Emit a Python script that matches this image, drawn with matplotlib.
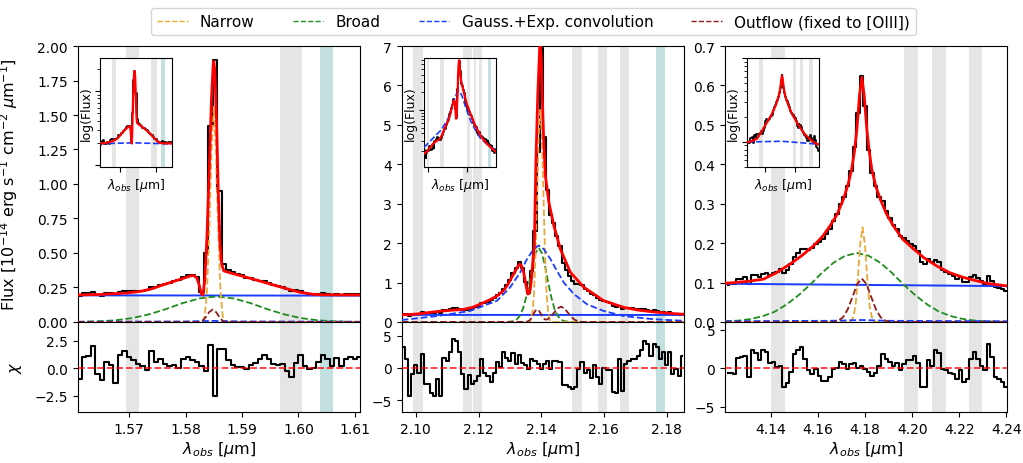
import matplotlib
matplotlib.use('Agg')
import matplotlib.pyplot as plt
from matplotlib.lines import Line2D

# ---------------------------------------------------------------------------
# Panel 1 : 1.56 - 1.61 um
# ---------------------------------------------------------------------------
wl_1 = [1.5612, 1.5620, 1.5628, 1.5636, 1.5644, 1.5652, 1.5660, 1.5668, 1.5676, 1.5684,
        1.5692, 1.5700, 1.5708, 1.5716, 1.5724, 1.5732, 1.5740, 1.5748, 1.5756, 1.5764,
        1.5772, 1.5780, 1.5788, 1.5796, 1.5804, 1.5812, 1.5820, 1.5828, 1.5836, 1.5844,
        1.5852, 1.5860, 1.5868, 1.5876, 1.5884, 1.5892, 1.5900, 1.5908, 1.5916, 1.5924,
        1.5932, 1.5940, 1.5948, 1.5956, 1.5964, 1.5972, 1.5980, 1.5988, 1.5996, 1.6004,
        1.6012, 1.6020, 1.6028, 1.6036, 1.6044, 1.6052, 1.6060, 1.6068, 1.6076, 1.6084,
        1.6092, 1.6100, 1.6108]
flux_1 = [0.186, 0.207, 0.209, 0.219, 0.195, 0.190, 0.208, 0.207, 0.192, 0.220,
          0.226, 0.223, 0.223, 0.224, 0.227, 0.230, 0.256, 0.256, 0.270, 0.276,
          0.285, 0.297, 0.304, 0.323, 0.337, 0.343, 0.324, 0.217, 0.500, 1.420,
          1.900, 0.950, 0.420, 0.375, 0.360, 0.348, 0.338, 0.322, 0.316, 0.307,
          0.300, 0.295, 0.282, 0.271, 0.262, 0.254, 0.237, 0.224, 0.229, 0.227,
          0.211, 0.203, 0.200, 0.204, 0.209, 0.204, 0.198, 0.205, 0.198, 0.204,
          0.206, 0.204, 0.206]
chi_1 = [-1.0, 1.0, 1.1, 2.0, -0.5, -1.1, 0.6, 0.3, -1.4, 1.2,
         1.6, 1.0, 0.7, 0.4, 0.2, -0.2, 1.6, 0.6, 0.8, 0.4,
         0.2, 0.3, 0.0, 0.8, 1.0, 0.7, 0.6, 0.2, -0.3, 2.1,
         -2.5, 1.7, 1.7, 0.7, 0.3, 0.1, 0.1, -0.1, 0.3, 0.5,
         0.8, 1.2, 0.8, 0.4, 0.3, 0.4, -0.3, -0.8, 0.5, 1.2,
         0.2, -0.1, 0.0, 0.6, 1.2, 0.8, 0.2, 0.9, 0.2, 0.8,
         1.0, 0.8, 1.0]
model_x_1 = [1.5609, 1.5650, 1.5696, 1.5720, 1.5740, 1.5755, 1.5780, 1.5800, 1.5810, 1.5815,
             1.5820, 1.5824, 1.5828, 1.5831, 1.5834, 1.5838, 1.5842, 1.5846, 1.5849, 1.5850,
             1.5852, 1.5855, 1.5858, 1.5861, 1.5864, 1.5868, 1.5880, 1.5908, 1.5935, 1.5961,
             1.5985, 1.6003, 1.6027, 1.6050, 1.6109]
model_y_1 = [0.196, 0.200, 0.210, 0.222, 0.240, 0.262, 0.295, 0.322, 0.335, 0.336,
             0.320, 0.270, 0.205, 0.196, 0.300, 0.620, 1.100, 1.620, 1.860, 1.890,
             1.820, 1.450, 0.950, 0.580, 0.420, 0.370, 0.355, 0.324, 0.293, 0.262,
             0.235, 0.215, 0.200, 0.197, 0.196]
narrow_x_1 = [1.5609, 1.5830, 1.5834, 1.5838, 1.5842, 1.5846, 1.5850, 1.5854, 1.5858, 1.5862,
              1.5866, 1.5870, 1.6109]
narrow_y_1 = [0.0, 0.0, 0.04, 0.22, 0.65, 1.23, 1.56, 1.23, 0.65, 0.22, 0.04, 0.0, 0.0]
broad_x_1 = [1.5609, 1.5615, 1.5645, 1.5675, 1.5705, 1.5735, 1.5765, 1.5795, 1.5825, 1.5855,
             1.5885, 1.5915, 1.5945, 1.5975, 1.6005, 1.6035, 1.6065, 1.6095, 1.6109]
broad_y_1 = [0.0, 0.001, 0.005, 0.012, 0.028, 0.055, 0.093, 0.137, 0.171, 0.185,
             0.171, 0.137, 0.093, 0.055, 0.028, 0.012, 0.005, 0.001, 0.0]
gexp_x_1 = [1.5609, 1.5800, 1.5850, 1.5900, 1.6109]
gexp_y_1 = [0.002, 0.004, 0.008, 0.004, 0.002]
outflow_x_1 = [1.5609, 1.5825, 1.5830, 1.5836, 1.5842, 1.5848, 1.5854, 1.5860, 1.5866, 1.5871, 1.6109]
outflow_y_1 = [0.0, 0.0, 0.008, 0.036, 0.072, 0.090, 0.072, 0.036, 0.008, 0.0, 0.0]
cont_x_1 = [1.5609, 1.6109]
cont_y_1 = [0.193, 0.191]
inset_blue_x_1 = [1.5609, 1.5850, 1.6109]
inset_blue_y_1 = [0.195, 0.200, 0.193]
grey_1 = [(1.5694, 1.5717), (1.5967, 1.6007)]
teal_1 = [(1.6038, 1.6062)]

# ---------------------------------------------------------------------------
# Panel 2 : 2.10 - 2.18 um
# ---------------------------------------------------------------------------
wl_2 = [2.096, 2.097, 2.098, 2.099, 2.100, 2.101, 2.102, 2.103, 2.104, 2.105,
        2.106, 2.107, 2.108, 2.109, 2.110, 2.111, 2.112, 2.113, 2.114, 2.115,
        2.116, 2.117, 2.118, 2.119, 2.120, 2.121, 2.122, 2.123, 2.124, 2.125,
        2.126, 2.127, 2.128, 2.129, 2.130, 2.131, 2.132, 2.133, 2.134, 2.135,
        2.136, 2.137, 2.138, 2.139, 2.140, 2.141, 2.142, 2.143, 2.144, 2.145,
        2.146, 2.147, 2.148, 2.149, 2.150, 2.151, 2.152, 2.153, 2.154, 2.155,
        2.156, 2.157, 2.158, 2.159, 2.160, 2.161, 2.162, 2.163, 2.164, 2.165,
        2.166, 2.167, 2.168, 2.169, 2.170, 2.171, 2.172, 2.173, 2.174, 2.175,
        2.176, 2.177, 2.178, 2.179, 2.180, 2.181, 2.182, 2.183, 2.184, 2.185]
flux_2 = [0.21, 0.20, 0.15, 0.186, 0.204, 0.203, 0.242, 0.205, 0.215, 0.212,
          0.216, 0.248, 0.229, 0.295, 0.30, 0.319, 0.344, 0.346, 0.334, 0.311,
          0.303, 0.339, 0.345, 0.38, 0.418, 0.474, 0.483, 0.518, 0.558, 0.613,
          0.68, 0.741, 0.84, 0.93, 1.06, 1.23, 1.37, 1.52, 1.36, 1.02,
          0.73, 1.30, 2.30, 4.30, 6.95, 4.70, 3.35, 2.72, 2.52, 2.19,
          1.93, 1.50, 1.32, 1.16, 1.05, 0.97, 0.975, 0.935, 0.835, 0.785,
          0.705, 0.687, 0.61, 0.55, 0.54, 0.505, 0.476, 0.405, 0.375, 0.415,
          0.34, 0.366, 0.355, 0.344, 0.329, 0.318, 0.318, 0.321, 0.307, 0.279,
          0.292, 0.277, 0.249, 0.254, 0.229, 0.244, 0.201, 0.203, 0.188, 0.215]
chi_2 = [3.2, 1.4, -4.3, -0.9, 0.4, -0.7, 2.2, -2.5, -2.5, -3.8,
         -4.4, -1.7, -4.3, 1.5, 1.0, 2.4, 4.4, 4.1, 2.4, -0.9,
         -3.2, -1.1, -2.5, -2.0, -1.2, 1.4, -0.7, -1.2, -2.2, -0.7,
         0.9, 0.1, 2.4, 1.6, 1.1, 2.3, 0.6, 2.0, 0.7, 0.4,
         -0.2, 1.4, 1.1, 0.6, -0.2, 0.6, 1.1, -0.2, 1.1, 1.1,
         0.9, -2.7, -2.7, -3.0, -3.2, -3.0, -0.2, 0.9, -0.7, -0.3,
         -1.6, 0.4, -1.4, -2.5, 0.0, -0.3, -0.3, -3.7, -3.8, 1.4,
         -3.5, 0.6, 1.0, 1.4, 1.4, 1.8, 2.8, 4.1, 3.7, 1.9,
         3.7, 3.2, 1.4, 2.4, 0.4, 2.4, -0.9, -0.2, -1.2, 1.9]
model_x_2 = [2.0955, 2.1000, 2.1067, 2.1110, 2.1152, 2.1180, 2.1205, 2.1235, 2.1259, 2.1280,
             2.1291, 2.1312, 2.1325, 2.1331, 2.1337, 2.1344, 2.1351, 2.1357, 2.1361, 2.1365,
             2.1369, 2.1373, 2.1378, 2.1383, 2.1389, 2.1395, 2.1397, 2.1400, 2.1403, 2.1408,
             2.1413, 2.1424, 2.1440, 2.1461, 2.1493, 2.1536, 2.1599, 2.1663, 2.1710, 2.1759,
             2.1810, 2.1855]
model_y_2 = [0.18, 0.20, 0.265, 0.295, 0.32, 0.37, 0.45, 0.56, 0.66, 0.80,
             0.92, 1.22, 1.40, 1.47, 1.43, 1.26, 0.95, 0.71, 0.72, 0.83,
             1.10, 1.51, 1.94, 4.07, 5.77, 6.96, 7.05, 6.70, 5.77, 4.58,
             3.73, 3.05, 2.45, 1.85, 1.26, 0.88, 0.54, 0.37, 0.30, 0.255,
             0.22, 0.196]
narrow_x_2 = [2.0955, 2.1362, 2.1367, 2.1372, 2.1377, 2.1382, 2.1387, 2.1392, 2.1397, 2.1402,
              2.1407, 2.1412, 2.1417, 2.1422, 2.1427, 2.1432, 2.1855]
narrow_y_2 = [0.0, 0.0, 0.06, 0.24, 0.73, 1.75, 3.26, 4.75, 5.38, 4.75,
              3.26, 1.75, 0.73, 0.24, 0.06, 0.0, 0.0]
broad_x_2 = [2.0955, 2.1292, 2.1312, 2.1322, 2.1332, 2.1342, 2.1352, 2.1362, 2.1372, 2.1382,
             2.1392, 2.1402, 2.1412, 2.1422, 2.1432, 2.1442, 2.1452, 2.1462, 2.1472, 2.1492,
             2.1855]
broad_y_2 = [0.0, 0.0, 0.023, 0.065, 0.16, 0.34, 0.63, 1.01, 1.43, 1.75,
             1.88, 1.75, 1.43, 1.01, 0.63, 0.34, 0.16, 0.065, 0.023, 0.0,
             0.0]
gexp_x_2 = [2.0955, 2.1067, 2.1173, 2.1259, 2.1301, 2.1333, 2.1355, 2.1376, 2.1392, 2.1408,
            2.1429, 2.1450, 2.1472, 2.1504, 2.1546, 2.1599, 2.1663, 2.1759, 2.1855]
gexp_y_2 = [0.05, 0.15, 0.28, 0.54, 0.88, 1.26, 1.60, 1.85, 1.94, 1.85,
            1.60, 1.30, 1.00, 0.71, 0.45, 0.28, 0.15, 0.07, 0.03]
outflow_x_2 = [2.0955, 2.1345, 2.1357, 2.1363, 2.1369, 2.1375, 2.1381, 2.1387, 2.1393, 2.1399,
               2.1405, 2.1411, 2.1419, 2.1430, 2.1441, 2.1452, 2.1463, 2.1474, 2.1485, 2.1496,
               2.1507, 2.1518, 2.1529, 2.1540, 2.1855]
outflow_y_2 = [0.0, 0.002, 0.014, 0.043, 0.104, 0.194, 0.282, 0.32, 0.282, 0.20,
               0.116, 0.067, 0.062, 0.127, 0.237, 0.344, 0.39, 0.344, 0.237, 0.127,
               0.053, 0.017, 0.004, 0.0, 0.0]
cont_x_2 = [2.0955, 2.1855]
cont_y_2 = [0.180, 0.178]
inset_blue_x_2 = gexp_x_2
inset_blue_y_2 = [0.23, 0.33, 0.46, 0.72, 1.06, 1.44, 1.78, 2.03, 2.12, 2.03,
                  1.78, 1.48, 1.18, 0.89, 0.63, 0.46, 0.33, 0.25, 0.21]
grey_2 = [(2.0992, 2.1022), (2.1150, 2.1178), (2.1182, 2.1211), (2.1498, 2.1530),
          (2.1580, 2.1610), (2.1650, 2.1679)]
teal_2 = [(2.1765, 2.1796)]

# ---------------------------------------------------------------------------
# Panel 3 : 4.12 - 4.24 um
# ---------------------------------------------------------------------------
wl_3 = [4.1215, 4.1230, 4.1245, 4.1260, 4.1275, 4.1290, 4.1305, 4.1320, 4.1335, 4.1350,
        4.1365, 4.1380, 4.1395, 4.1410, 4.1425, 4.1440, 4.1455, 4.1470, 4.1485, 4.1500,
        4.1515, 4.1530, 4.1545, 4.1560, 4.1575, 4.1590, 4.1605, 4.1620, 4.1635, 4.1650,
        4.1665, 4.1680, 4.1695, 4.1710, 4.1725, 4.1740, 4.1755, 4.1770, 4.1785, 4.1800,
        4.1815, 4.1830, 4.1845, 4.1860, 4.1875, 4.1890, 4.1905, 4.1920, 4.1935, 4.1950,
        4.1965, 4.1980, 4.1995, 4.2010, 4.2025, 4.2040, 4.2055, 4.2070, 4.2085, 4.2100,
        4.2115, 4.2130, 4.2145, 4.2160, 4.2175, 4.2190, 4.2205, 4.2220, 4.2235, 4.2250,
        4.2265, 4.2280, 4.2295, 4.2310, 4.2325, 4.2340, 4.2355, 4.2370, 4.2385, 4.2400]
flux_3 = [0.095, 0.096, 0.097, 0.109, 0.110, 0.113, 0.097, 0.119, 0.118, 0.113,
          0.122, 0.124, 0.119, 0.125, 0.127, 0.134, 0.123, 0.133, 0.146, 0.166,
          0.176, 0.185, 0.184, 0.183, 0.187, 0.199, 0.204, 0.210, 0.222, 0.237,
          0.257, 0.275, 0.300, 0.318, 0.344, 0.383, 0.445, 0.530, 0.625, 0.549,
          0.437, 0.379, 0.344, 0.318, 0.306, 0.282, 0.263, 0.246, 0.236, 0.218,
          0.213, 0.206, 0.197, 0.193, 0.179, 0.153, 0.146, 0.161, 0.151, 0.158,
          0.151, 0.133, 0.127, 0.121, 0.116, 0.110, 0.113, 0.102, 0.102, 0.115,
          0.119, 0.111, 0.104, 0.097, 0.117, 0.105, 0.089, 0.087, 0.083, 0.078]
chi_3 = [-0.6, -0.6, -0.7, 1.3, 1.4, 1.6, -1.2, 2.3, 2.0, 1.0,
         2.4, 2.1, 0.7, 0.8, 0.1, 0.3, -2.5, -1.9, -0.5, 1.8,
         2.3, 2.7, 1.2, -0.3, -0.8, -0.1, -1.0, -1.7, -1.7, -1.2,
         -0.1, 0.0, 0.8, 0.5, -0.1, 0.5, 0.7, 0.0, 0.3, -0.1,
         -0.5, -1.0, -0.6, 0.3, 1.8, 1.2, 0.8, 0.3, 0.7, -0.3,
         0.5, 1.0, 1.0, 1.6, 0.7, -2.5, -2.5, 1.0, 0.3, 2.3,
         2.0, -0.1, -0.3, -0.6, -0.8, -1.4, -0.3, -1.8, -1.4, 1.2,
         2.1, 1.2, 0.3, -0.3, 3.1, 1.4, -1.2, -1.4, -1.8, -2.5]
model_x_3 = [4.1204, 4.1300, 4.1367, 4.1420, 4.1481, 4.1530, 4.1580, 4.1620, 4.1651, 4.1680,
             4.1708, 4.1728, 4.1743, 4.1755, 4.1765, 4.1776, 4.1786, 4.1796, 4.1807, 4.1817,
             4.1828, 4.1845, 4.1864, 4.1890, 4.1920, 4.1960, 4.2006, 4.2050, 4.2105, 4.2160,
             4.2218, 4.2270, 4.2318, 4.2404]
model_y_3 = [0.098, 0.103, 0.1085, 0.124, 0.147, 0.168, 0.193, 0.218, 0.244, 0.272,
             0.312, 0.350, 0.388, 0.435, 0.490, 0.574, 0.621, 0.574, 0.490, 0.435,
             0.388, 0.345, 0.312, 0.275, 0.244, 0.210, 0.185, 0.163, 0.142, 0.125,
             0.113, 0.105, 0.098, 0.0915]
narrow_x_3 = [4.1204, 4.1729, 4.1739, 4.1749, 4.1759, 4.1769, 4.1779, 4.1789, 4.1799, 4.1809,
              4.1819, 4.1829, 4.1839, 4.1849, 4.2404]
narrow_y_3 = [0.0, 0.0, 0.002, 0.011, 0.041, 0.110, 0.197, 0.240, 0.197, 0.110,
              0.041, 0.011, 0.002, 0.0, 0.0]
broad_x_3 = [4.1204, 4.1265, 4.1315, 4.1365, 4.1415, 4.1465, 4.1515, 4.1565, 4.1615, 4.1665,
             4.1715, 4.1765, 4.1815, 4.1865, 4.1915, 4.1965, 4.2015, 4.2065, 4.2115, 4.2165,
             4.2215, 4.2265, 4.2315, 4.2404]
broad_y_3 = [0.0014, 0.0037, 0.0077, 0.0148, 0.026, 0.044, 0.067, 0.094, 0.124, 0.150,
             0.168, 0.175, 0.168, 0.150, 0.124, 0.094, 0.067, 0.044, 0.026, 0.0148,
             0.0077, 0.0037, 0.0015, 0.0003]
gexp_x_3 = [4.1204, 4.1650, 4.1786, 4.1900, 4.2404]
gexp_y_3 = [0.002, 0.003, 0.005, 0.003, 0.002]
outflow_x_3 = [4.1204, 4.1666, 4.1686, 4.1706, 4.1726, 4.1746, 4.1766, 4.1786, 4.1806, 4.1826,
               4.1846, 4.1866, 4.1886, 4.1906, 4.2404]
outflow_y_3 = [0.0, 0.0, 0.0035, 0.012, 0.032, 0.063, 0.096, 0.110, 0.096, 0.063,
               0.032, 0.012, 0.0035, 0.0, 0.0]
cont_x_3 = [4.1204, 4.2404]
cont_y_3 = [0.097, 0.091]
inset_blue_x_3 = [4.1204, 4.1786, 4.2404]
inset_blue_y_3 = [0.099, 0.101, 0.093]
grey_3 = [(4.1400, 4.1460), (4.1966, 4.2023), (4.2086, 4.2145), (4.2240, 4.2299)]
teal_3 = []

# Colours
C_NARROW = '#e9a93a'
C_BROAD = '#1f8c1f'
C_GEXP = '#1a3cff'
C_OUTFLOW = '#8c1c1c'
C_GREY = '#e5e5e5'
C_TEAL = '#c3e0e0'


def plot_bands(ax, grey, teal):
    """Shade the masked / sky windows."""
    for lo, hi in grey:
        ax.axvspan(lo, hi, color=C_GREY, lw=0, zorder=0)
    for lo, hi in teal:
        ax.axvspan(lo, hi, color=C_TEAL, lw=0, zorder=0)


def plot_panel(fig, left, p):
    width = 0.2758
    ax = fig.add_axes([left, 0.3039, width, 0.5948])
    axr = fig.add_axes([left, 0.1099, width, 0.1940], sharex=ax)
    axi = fig.add_axes([left + 0.0218, 0.6386, 0.0700, 0.2336])

    # Main spectrum and model components
    plot_bands(ax, p['grey'], p['teal'])
    ax.step(p['wl'], p['flux'], where='mid', color='k', lw=1.5, zorder=2)
    ax.plot(p['cont_x'], p['cont_y'], color=C_GEXP, lw=1.4, zorder=3)
    ax.plot(p['broad_x'], p['broad_y'], color=C_BROAD, ls='--', lw=1.3, zorder=3)
    ax.plot(p['narrow_x'], p['narrow_y'], color=C_NARROW, ls='--', lw=1.3, zorder=3)
    ax.plot(p['gexp_x'], p['gexp_y'], color=C_GEXP, ls='--', lw=1.3, zorder=3)
    ax.plot(p['outflow_x'], p['outflow_y'], color=C_OUTFLOW, ls='--', lw=1.3, zorder=3)
    ax.plot(p['model_x'], p['model_y'], color='red', lw=2, zorder=4)
    ax.set_xlim(p['xlim'])
    ax.set_ylim(p['ylim'])
    ax.set_yticks(p['yticks'])
    ax.tick_params(labelbottom=False, labelsize=10)

    # Residuals
    plot_bands(axr, p['grey'], p['teal'])
    axr.step(p['wl'], p['chi'], where='mid', color='k', lw=1.5, zorder=2)
    axr.axhline(0, color='red', ls='--', lw=1.3, alpha=0.8, zorder=3)
    axr.set_ylim(p['rlim'])
    axr.set_yticks(p['rticks'])
    axr.set_xticks(p['xticks'])
    axr.set_xticklabels(p['xticklabels'])
    axr.tick_params(labelsize=10)
    axr.set_xlabel(r'$\lambda_{obs}$ [$\mu$m]', fontsize=11.5, labelpad=2)

    # Log-scale inset
    plot_bands(axi, p['grey'], p['teal'])
    axi.step(p['wl'], p['flux'], where='mid', color='k', lw=1.2, zorder=2)
    axi.plot(p['model_x'], p['model_y'], color='red', lw=1.6, zorder=4)
    axi.plot(p['iblue_x'], p['iblue_y'], color=C_GEXP, ls='--', lw=1.2, zorder=3)
    axi.set_yscale('log')
    axi.set_xlim(p['xlim'])
    axi.set_ylim(p['ilim'])
    axi.set_xticks(p['iticks'])
    axi.tick_params(which='both', labelbottom=False, labelleft=False)
    axi.set_ylabel('log(Flux)', fontsize=9, labelpad=2)
    axi.set_xlabel(r'$\lambda_{obs}$ [$\mu$m]', fontsize=9, labelpad=3)
    return ax, axr


panels = [
    dict(wl=wl_1, flux=flux_1, chi=chi_1, model_x=model_x_1, model_y=model_y_1,
         narrow_x=narrow_x_1, narrow_y=narrow_y_1, broad_x=broad_x_1, broad_y=broad_y_1,
         gexp_x=gexp_x_1, gexp_y=gexp_y_1, outflow_x=outflow_x_1, outflow_y=outflow_y_1,
         cont_x=cont_x_1, cont_y=cont_y_1, iblue_x=inset_blue_x_1, iblue_y=inset_blue_y_1,
         grey=grey_1, teal=teal_1, xlim=(1.5609, 1.6109), ylim=(0, 2.0),
         yticks=[0, 0.25, 0.5, 0.75, 1.0, 1.25, 1.5, 1.75, 2.0],
         rlim=(-4.0, 4.2), rticks=[-2.5, 0.0, 2.5],
         xticks=[1.57, 1.58, 1.59, 1.60, 1.61],
         xticklabels=['1.57', '1.58', '1.59', '1.60', '1.61'],
         ilim=(0.095, 2.8), iticks=[1.575, 1.600]),
    dict(wl=wl_2, flux=flux_2, chi=chi_2, model_x=model_x_2, model_y=model_y_2,
         narrow_x=narrow_x_2, narrow_y=narrow_y_2, broad_x=broad_x_2, broad_y=broad_y_2,
         gexp_x=gexp_x_2, gexp_y=gexp_y_2, outflow_x=outflow_x_2, outflow_y=outflow_y_2,
         cont_x=cont_x_2, cont_y=cont_y_2, iblue_x=inset_blue_x_2, iblue_y=inset_blue_y_2,
         grey=grey_2, teal=teal_2, xlim=(2.0955, 2.1855), ylim=(0, 7),
         yticks=[0, 1, 2, 3, 4, 5, 6, 7],
         rlim=(-6.8, 7.1), rticks=[-5, 0, 5],
         xticks=[2.10, 2.12, 2.14, 2.16, 2.18],
         xticklabels=['2.10', '2.12', '2.14', '2.16', '2.18'],
         ilim=(0.108, 7.6), iticks=[2.10, 2.15]),
    dict(wl=wl_3, flux=flux_3, chi=chi_3, model_x=model_x_3, model_y=model_y_3,
         narrow_x=narrow_x_3, narrow_y=narrow_y_3, broad_x=broad_x_3, broad_y=broad_y_3,
         gexp_x=gexp_x_3, gexp_y=gexp_y_3, outflow_x=outflow_x_3, outflow_y=outflow_y_3,
         cont_x=cont_x_3, cont_y=cont_y_3, iblue_x=inset_blue_x_3, iblue_y=inset_blue_y_3,
         grey=grey_3, teal=teal_3, xlim=(4.1204, 4.2404), ylim=(0, 0.7),
         yticks=[0, 0.1, 0.2, 0.3, 0.4, 0.5, 0.6, 0.7],
         rlim=(-5.7, 6.0), rticks=[-5, 0, 5],
         xticks=[4.14, 4.16, 4.18, 4.20, 4.22, 4.24],
         xticklabels=['4.14', '4.16', '4.18', '4.20', '4.22', '4.24'],
         ilim=(0.05, 1.0), iticks=[4.15, 4.20]),
]

fig = plt.figure(figsize=(10.23, 4.64), dpi=100)
lefts = [0.0760, 0.3927, 0.7087]
axes = [plot_panel(fig, left, p) for left, p in zip(lefts, panels)]

ax0, axr0 = axes[0]
ax0.set_ylabel(r'Flux [$10^{-14}$ erg s$^{-1}$ cm$^{-2}$ $\mu$m$^{-1}$]', fontsize=11.5)
ax0.yaxis.set_label_coords(-0.205, 0.5)
axr0.set_ylabel(r'$\chi$', fontsize=11.5)
axr0.yaxis.set_label_coords(-0.19, 0.5)

# Shared legend on top
handles = [Line2D([], [], color=C_NARROW, ls='--', lw=1.0),
           Line2D([], [], color=C_BROAD, ls='--', lw=1.0),
           Line2D([], [], color=C_GEXP, ls='--', lw=1.0),
           Line2D([], [], color=C_OUTFLOW, ls='--', lw=1.0)]
labels = ['Narrow', 'Broad', 'Gauss.+Exp. convolution', 'Outflow (fixed to [OIII])']
fig.legend(handles, labels, loc='upper center', bbox_to_anchor=(0.5215, 0.997), ncol=4,
           fontsize=11, frameon=True, columnspacing=2.5)

fig.savefig('out.png', dpi=100)
